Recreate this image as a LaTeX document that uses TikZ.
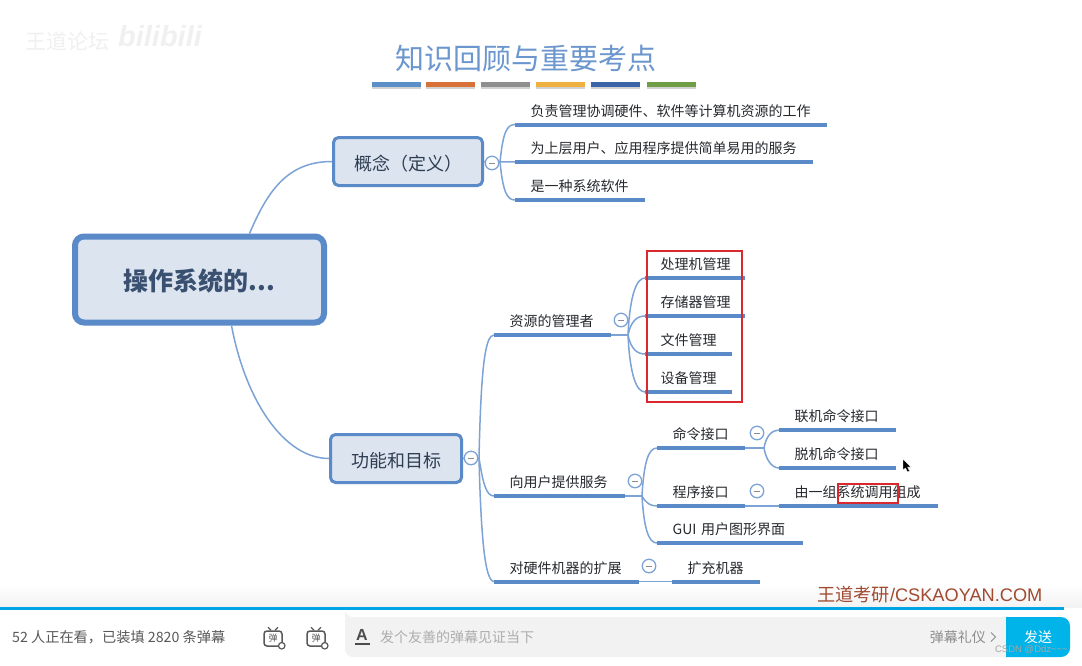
\documentclass[tikz,border=0pt]{standalone}
\usepackage{fontspec}
\setmainfont{Noto Sans CJK SC}
\newfontfamily\latinfont{Liberation Sans}
\usepackage{xcolor}
\usetikzlibrary{arrows.meta,positioning,calc}
\definecolor{mapblue}{HTML}{5A8AC8}
\definecolor{twigblue}{HTML}{7DA3D6}
\definecolor{boxfill}{HTML}{DCE4F0}
\definecolor{inkdark}{HTML}{26292E}
\definecolor{rootink}{HTML}{3A5070}
\definecolor{topicink}{HTML}{2F3D52}
\definecolor{markred}{HTML}{D9282E}
\definecolor{barblue}{HTML}{00A6E4}
\definecolor{brandink}{HTML}{A04A30}
\tikzset{
  rootbox/.style={draw=mapblue,line width=6pt,rounded corners=9pt,fill=boxfill,
    minimum width=249pt,minimum height=86pt,inner sep=0pt,text height=24pt,text depth=2pt,
    font=\fontsize{25}{28}\selectfont\bfseries,text=rootink},
  topicbox/.style={draw=mapblue,line width=3pt,rounded corners=5pt,fill=boxfill,
    minimum height=48pt,inner sep=0pt,text height=18pt,text depth=1pt,
    font=\fontsize{18}{22}\selectfont,text=topicink},
  leaf/.style={anchor=south west,text width=#1,align=left,inner xsep=15.5pt,inner ysep=5pt,
    text height=11pt,text depth=3pt,font=\fontsize{14}{14}\selectfont,text=inkdark},
  stem/.style={draw=mapblue,line width=4pt},
  twig/.style={draw=twigblue,line width=1.5pt},
  collapse/.style={circle,draw=twigblue,line width=1.3pt,fill=white,minimum size=13.5pt,inner sep=0pt,
    path picture={\draw[black!45,line width=.9pt]
      ([xshift=-3pt]path picture bounding box.center) -- ([xshift=3pt]path picture bounding box.center);}},
  redmark/.style={draw=markred,line width=2pt,fill=none},
  colorbar/.style={minimum width=49pt,minimum height=5pt,inner sep=0pt},
  tvicon/.style={draw=black!65,line width=1.5pt,rounded corners=3pt,minimum width=18pt,minimum height=15pt,
    inner sep=0pt,font=\fontsize{9}{9}\selectfont,text=black!65},
  barlabel/.style={font=\fontsize{14}{14}\selectfont,text=black!65,inner sep=0pt}
}
\begin{document}
\begin{tikzpicture}[x=1pt,y=-1pt]
\useasboundingbox (0,0) rectangle (1082,665);
\fill[white] (0,0) rectangle (1082,665);
\shade[top color=white,bottom color=black!5] (0,585) rectangle (1082,607);

\node[font=\fontsize{21}{21}\selectfont,text=black!6,inner sep=0pt] (wmforum) at (67,41) {王道论坛};
\node[font=\fontsize{29}{29}\selectfont\bfseries\itshape,text=black!6,inner sep=0pt] (wmbili) at (160,36) {\latinfont bilibili};

\node[font=\fontsize{29}{29}\selectfont,text=mapblue!90!white,inner sep=0pt] (title) at (525.5,59) {知识回顾与重要考点};
\foreach \x/\c/\n in {396.5/5B8FC8/a,450.5/D8703A/b,505.5/8F8F8F/c,560.5/F0B040/d,615.5/3C64A8/e,671/6F9E45/f}{
  \fill[black!35,opacity=.5] (\x-24.5,85) rectangle (\x+24.5,88.5);
  \definecolor{barcol}{HTML}{\c}
  \node[colorbar,fill=barcol] (bar\n) at (\x,84) {};
}

\node[rootbox] (root) at (199.5,279.5) {操作系统的...};
\node[topicbox,minimum width=149pt] (concept) at (408,161.5) {概念（定义）\hspace{4pt}};
\node[topicbox,minimum width=131pt] (func) at (396,458.5) {功能和目标};

\node[leaf=281pt] (duty) at (515,124.5) {负责管理协调硬件、软件等计算机资源的工作};
\node[leaf=267pt] (serve) at (515,162) {为上层用户、应用程序提供简单易用的服务};
\node[leaf=99pt] (soft) at (515,200) {是一种系统软件};

\node[leaf=86pt] (res) at (494,335) {资源的管理者};
\node[leaf=69pt] (cpu) at (645,278) {处理机管理};
\node[leaf=69pt] (mem) at (645,316) {存储器管理};
\node[leaf=56pt] (file) at (645,354) {文件管理};
\node[leaf=56pt] (dev) at (645,392) {设备管理};

\node[leaf=100pt] (user) at (494,496) {向用户提供服务};
\node[leaf=57pt] (cmd) at (657,448) {命令接口};
\node[leaf=86pt] (online) at (779,430) {联机命令接口};
\node[leaf=86pt] (offline) at (779,468) {脱机命令接口};
\node[leaf=57pt] (prog) at (657,506) {程序接口};
\node[leaf=128pt] (call) at (779,506) {由一组系统调用组成};
\node[leaf=115pt] (gui) at (657,543) {GUI 用户图形界面};

\node[leaf=114pt] (ext) at (494,581.5) {对硬件机器的扩展};
\node[leaf=57pt] (mach) at (672,581.5) {扩充机器};

\coordinate (jdef) at (500,162);
\coordinate (jfunc) at (479,458);
\coordinate (jres) at (628,335);
\coordinate (juser) at (642,496);
\coordinate (jcmd) at (764,448);

\draw[twig] ([xshift=50pt]root.north) .. controls +(18,-42) and +(-45,0) .. (concept.west);
\draw[twig] ([xshift=32pt]root.south) .. controls +(14,75) and +(-45,0) .. (func.west);

\draw[twig] (concept.east) -- (duty.south west |- jdef);
\draw[twig] (jdef) .. controls +(3,-30) and +(-8,0) .. (duty.south west);
\draw[twig] (jdef) .. controls +(3,30) and +(-8,0) .. (soft.south west);

\draw[twig] (func.east) -- (jfunc);
\draw[twig] (jfunc) .. controls +(2,-90) and +(-9,0) .. (res.south west);
\draw[twig] (jfunc) .. controls +(4,25) and +(-8,0) .. (user.south west);
\draw[twig] (jfunc) .. controls +(2,80) and +(-9,0) .. (ext.south west);

\draw[twig] (res.south east) -- (jres);
\draw[twig] (jres) .. controls +(2,-42) and +(-8,0) .. (cpu.south west);
\draw[twig] (jres) .. controls +(3,-14) and +(-8,0) .. (mem.south west);
\draw[twig] (jres) .. controls +(3,14) and +(-8,0) .. (file.south west);
\draw[twig] (jres) .. controls +(2,42) and +(-8,0) .. (dev.south west);

\draw[twig] (user.south east) -- (juser);
\draw[twig] (juser) .. controls +(2,-36) and +(-8,0) .. (cmd.south west);
\draw[twig] (juser) .. controls +(4,7) and +(-7,0) .. (prog.south west);
\draw[twig] (juser) .. controls +(2,34) and +(-8,0) .. (gui.south west);

\draw[twig] (cmd.south east) -- (jcmd);
\draw[twig] (jcmd) .. controls +(2,-12) and +(-7,0) .. (online.south west);
\draw[twig] (jcmd) .. controls +(2,12) and +(-7,0) .. (offline.south west);
\draw[twig] (prog.south east) -- (call.south west);
\draw[twig] (ext.south east) -- (mach.south west);

\foreach \n in {duty,serve,soft,res,cpu,mem,file,dev,user,cmd,online,offline,prog,call,gui,ext,mach}
  \draw[stem] (\n.south west) -- (\n.south east);

\foreach \x/\y/\n in {492/163/ca,471/458/cb,621/320/cc,635/481/cd,649/566/ce,757/433/cf,757/491/cg}
  \node[collapse] (\n) at (\x,\y) {};

\draw[redmark] (647,251) rectangle (741.5,402);
\draw[redmark] (837.5,483.5) rectangle (897.5,503);

\fill[black,draw=white,line width=.4pt] (903,459) -- (903,470) -- (905.5,468) -- (907.5,472) -- (909.5,471) -- (907.5,467) -- (911,467) -- cycle;

\node[anchor=west,inner sep=0pt,font=\fontsize{18.2}{18}\selectfont,text=brandink] (brand) at (817,595) {王道考研{\latinfont /CSKAOYAN.COM}};

\fill[barblue] (0,607) rectangle (1064,609.5);
\fill[white] (0,609.5) rectangle (1082,665);

\node[barlabel,anchor=west,font=\fontsize{14.2}{14}\selectfont] (watching) at (12,637) {52 人正在看，已装填 2820 条弹幕};
\foreach \x/\n in {273/tva,316/tvb}{
  \node[tvicon] (\n) at (\x,638.5) {弹};
  \draw[black!65,line width=1.2pt] ([xshift=-2pt]\n.north) -- +(-3,-3);
  \draw[black!65,line width=1.2pt] ([xshift=2pt]\n.north) -- +(3,-3);
  \node[circle,draw=black!65,fill=white,line width=1.2pt,minimum size=6.5pt,inner sep=0pt] (\n dot) at ([xshift=-1pt,yshift=1pt]\n.south east) {};
}
\fill[black!5!white] (345,617) [rounded corners=8pt] -- (345,657) -- (1020,657) -- (1020,617) -- (345,617) -- cycle;
\node[font=\fontsize{16}{16}\selectfont\bfseries,text=black!70,inner sep=0pt] (fontbtn) at (362,635) {\latinfont A};
\draw[black!70,line width=1.3pt] (355,644) -- (370,644);
\node[barlabel,anchor=west,text=black!32] (hint) at (380,637) {发个友善的弹幕见证当下};
\node[barlabel,anchor=east,text=black!45] (rules) at (986,637) {弹幕礼仪};
\draw[black!45,line width=1pt] (991,632.5) -- (995.5,637) -- (991,641.5);
\fill[barblue!85!cyan] (1006,617) [rounded corners=9pt] -- (1070,617) -- (1070,657) [sharp corners] -- (1006,657) -- cycle;
\node[font=\fontsize{14}{14}\selectfont,text=white,inner sep=0pt] (send) at (1038,637) {发送};
\node[anchor=east,font=\fontsize{9.5}{10}\selectfont,text=black!35,inner sep=0pt] (csdn) at (1068,650) {\latinfont CSDN @Ddz\textasciitilde\textasciitilde\textasciitilde};
\end{tikzpicture}
\end{document}
